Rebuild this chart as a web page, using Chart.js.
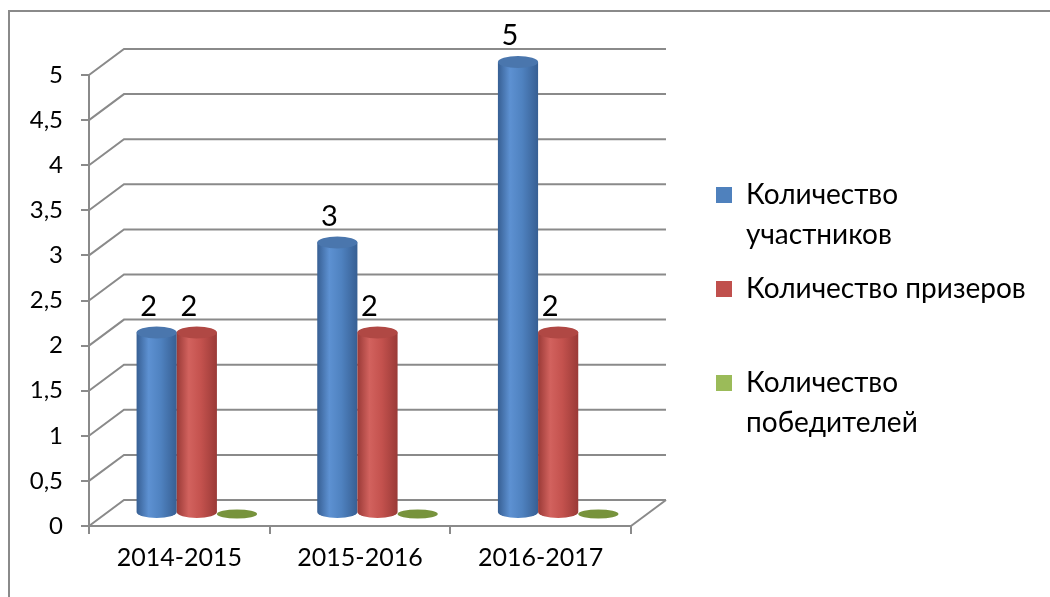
<!DOCTYPE html>
<html>
<head>
<meta charset="utf-8">
<script src="https://cdn.jsdelivr.net/npm/chart.js@4/dist/chart.umd.min.js"></script>
<style>
html,body{margin:0;padding:0;background:#fff;overflow:hidden}
#wrap{width:1050px;height:597px;position:relative}
</style>
</head>
<body>
<div id="wrap"><canvas id="c" width="1050" height="597"></canvas></div>
<script>
// ---- data ----
const categories = ['2014-2015', '2015-2016', '2016-2017'];
const participants = [2, 3, 5];
const prizewinners = [2, 2, 2];
const winners = [0, 0, 0];
const seriesNames = [['Количество', 'участников'], ['Количество призеров', ''], ['Количество', 'победителей']];
const yMin = 0, yMax = 5, yStep = 0.5;

// ---- style ----
const FONT = 'Lato';
const GRAY = '#8a8a8a';
const DEPTH_X = 35, DEPTH_Y = -26;
const colors = [
  {legend: '#4F81BD', edge: '#375f93', light: '#5d91d2', mid: '#4f82c0', cap: '#4a76ad', flat: '#3f6a9c'},
  {legend: '#C0504D', edge: '#9a3a37', light: '#d2625e', mid: '#c4524e', cap: '#b04844', flat: '#9e3d3a'},
  {legend: '#9BBB59', edge: '#6f8a35', light: '#a5c560', mid: '#93b352', cap: '#7f9b41', flat: '#77933C'}
];

function cylinder(ctx, cx, top, bottom, w, c) {
  const rx = w / 2, ry = 6;
  if (bottom - top > 0.5) {
    const g = ctx.createLinearGradient(cx - rx, 0, cx + rx, 0);
    g.addColorStop(0, c.edge);
    g.addColorStop(0.3, c.light);
    g.addColorStop(0.6, c.mid);
    g.addColorStop(1, c.edge);
    ctx.beginPath();
    ctx.moveTo(cx - rx, top);
    ctx.lineTo(cx - rx, bottom);
    ctx.ellipse(cx, bottom, rx, ry, 0, Math.PI, 0, true);
    ctx.lineTo(cx + rx, top);
    ctx.closePath();
    ctx.fillStyle = g;
    ctx.fill();
    ctx.beginPath();
    ctx.ellipse(cx, top, rx, ry, 0, 0, Math.PI * 2);
    ctx.fillStyle = c.cap;
    ctx.fill();
  } else {
    ctx.beginPath();
    ctx.ellipse(cx, bottom + 1, rx, ry - 1.5, 0, 0, Math.PI * 2);
    ctx.fillStyle = c.flat;
    ctx.fill();
  }
}

const scene3d = {
  id: 'scene3d',
  beforeDraw(chart) {
    const ctx = chart.ctx;
    ctx.save();
    ctx.strokeStyle = GRAY;
    ctx.lineWidth = 2;
    ctx.beginPath();
    ctx.moveTo(9, 597);
    ctx.lineTo(9, 11);
    ctx.lineTo(1050, 11);
    ctx.stroke();
    ctx.restore();
  },
  afterLayout(chart) {
    const lg = chart.legend;
    if (lg) {
      lg.left = 702; lg.right = 1050;
      lg.top = 167; lg.bottom = 597;
    }
  },
  beforeDatasetsDraw(chart) {
    const ctx = chart.ctx;
    const ys = chart.scales.y, xs = chart.scales.x;
    const L = xs.left, R = xs.right;
    ctx.save();
    ctx.strokeStyle = GRAY;
    ctx.lineWidth = 2;
    ctx.lineCap = 'butt';
    ys.ticks.forEach(t => {
      const y = ys.getPixelForValue(t.value);
      ctx.beginPath();
      ctx.moveTo(L, y);
      ctx.lineTo(L + DEPTH_X, y + DEPTH_Y);
      ctx.lineTo(R + DEPTH_X, y + DEPTH_Y);
      ctx.stroke();
    });
    const y0 = ys.getPixelForValue(yMin);
    ctx.beginPath();
    ctx.moveTo(R, y0);
    ctx.lineTo(R + DEPTH_X, y0 + DEPTH_Y);
    ctx.stroke();

    // cylinders at mid depth
    const dx = DEPTH_X / 2, dy = DEPTH_Y / 2;
    const labels = [];
    chart.data.datasets.forEach((ds, di) => {
      const meta = chart.getDatasetMeta(di);
      meta.data.forEach((el, i) => {
        const p = el.getProps(['x', 'y', 'base', 'width'], true);
        const cx = p.x + dx;
        const top = p.y + dy, bottom = p.base + dy;
        cylinder(ctx, cx, top, bottom, p.width, colors[di]);
        const v = ds.data[i];
        if (v) labels.push({x: cx - 8, y: top - 26, t: String(v)});
      });
    });
    ctx.fillStyle = '#000';
    ctx.font = '29px ' + FONT;
    ctx.textAlign = 'center';
    ctx.textBaseline = 'middle';
    labels.forEach(l => ctx.fillText(l.t, l.x, l.y));
    ctx.restore();
    return false;
  }
};

new Chart(document.getElementById('c'), {
  type: 'bar',
  data: {
    labels: categories,
    datasets: [
      {label: seriesNames[0], data: participants, backgroundColor: colors[0].legend},
      {label: seriesNames[1], data: prizewinners, backgroundColor: colors[1].legend},
      {label: seriesNames[2], data: winners, backgroundColor: colors[2].legend}
    ]
  },
  options: {
    responsive: false,
    animation: false,
    events: [],
    layout: {padding: {left: 0, top: 75, right: 419, bottom: 0}},
    datasets: {bar: {categoryPercentage: 0.667, barPercentage: 1}},
    scales: {
      x: {
        grid: {display: true, offset: true, drawOnChartArea: false, drawTicks: true, tickLength: 8, color: GRAY, lineWidth: 2},
        border: {display: true, color: GRAY, width: 2},
        ticks: {color: '#000', font: {family: FONT, size: 25}, padding: 9},
        afterFit(s) { s.height = 71; }
      },
      y: {
        min: yMin, max: yMax,
        grid: {display: true, drawOnChartArea: false, drawTicks: true, tickLength: 8, color: GRAY, lineWidth: 2},
        border: {display: true, color: GRAY, width: 2},
        ticks: {
          stepSize: yStep, color: '#000', font: {family: FONT, size: 24}, padding: 18,
          callback: v => String(v).replace('.', ',')
        },
        afterFit(s) { s.width = 89; }
      }
    },
    plugins: {
      legend: {
        position: 'chartArea',
        align: 'start',
        labels: {
          boxWidth: 16, boxHeight: 16, padding: 14, color: '#000',
          font: {family: FONT, size: 28, lineHeight: 40 / 28}
        }
      },
      tooltip: {enabled: false}
    }
  },
  plugins: [scene3d]
});
</script>
</body>
</html>
